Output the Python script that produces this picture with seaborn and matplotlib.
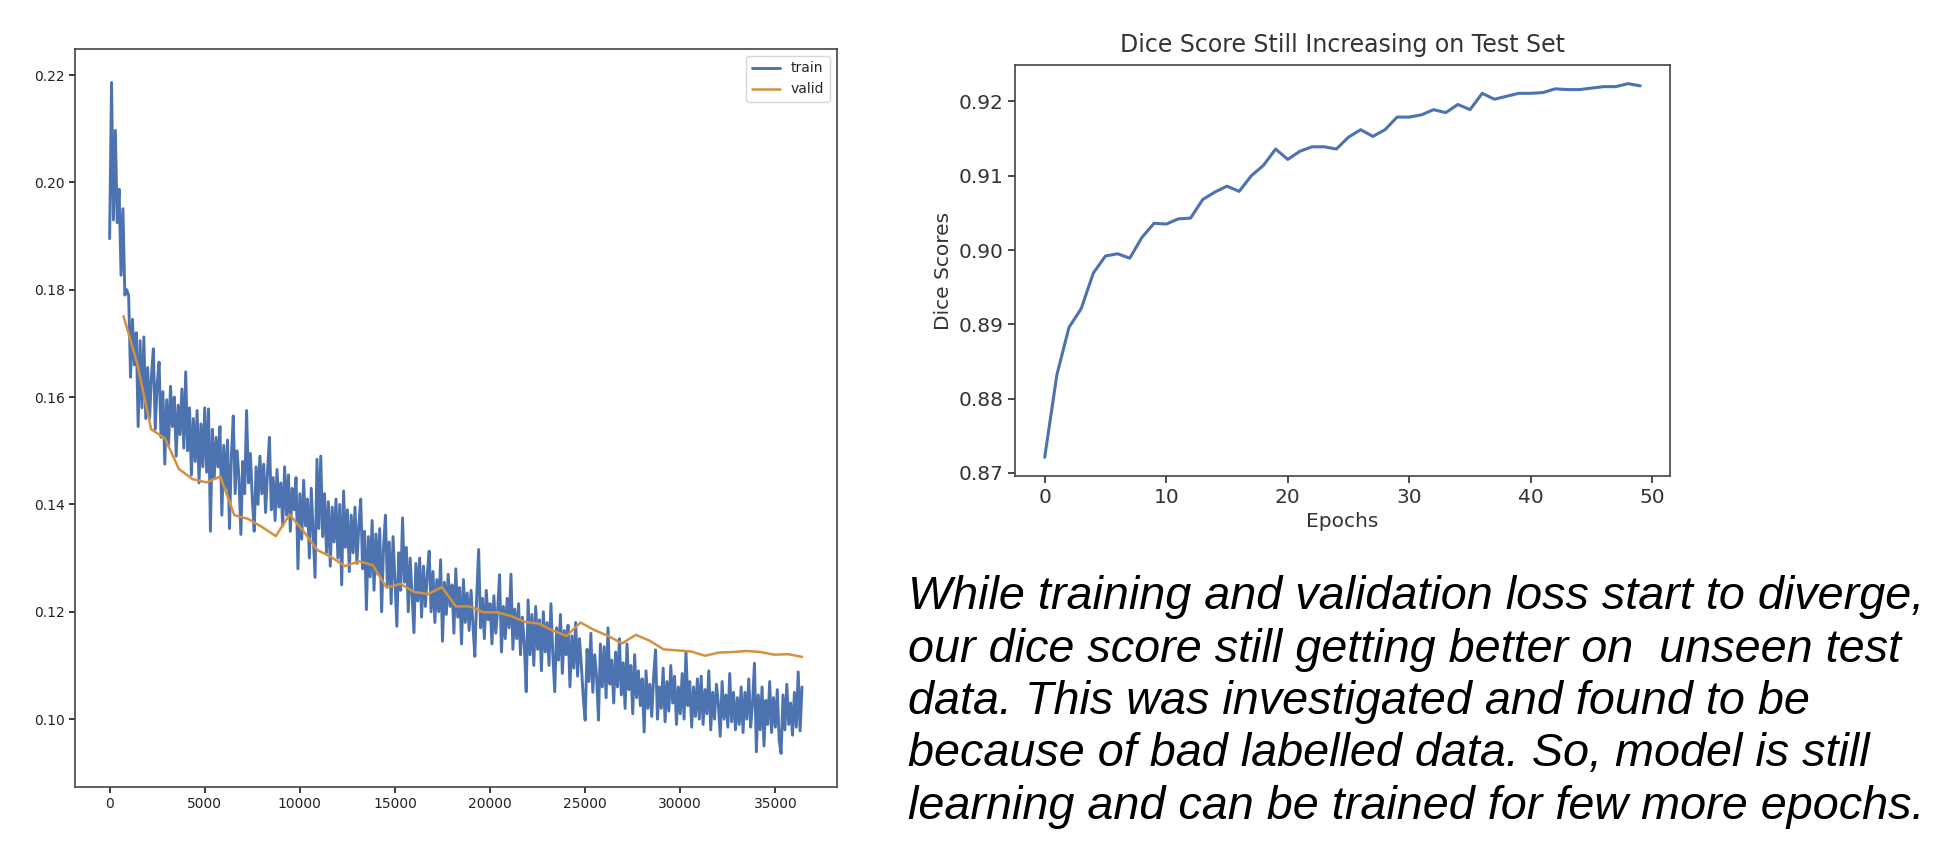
import numpy as np
import pandas as pd
import matplotlib
matplotlib.use("Agg")
import matplotlib.pyplot as plt
import seaborn as sns

# ----------------------------------------
# Data
# ----------------------------------------

# training loss, one value every 100 steps (0 .. 36400)
train_loss = [
    0.1895, 0.2186, 0.1930, 0.2097, 0.1925, 0.1987, 0.1827, 0.1951, 0.1790, 0.1800,
    0.1789, 0.1637, 0.1745, 0.1660, 0.1720, 0.1545, 0.1705, 0.1580, 0.1712, 0.1560,
    0.1655, 0.1560, 0.1640, 0.1690, 0.1540, 0.1625, 0.1665, 0.1525, 0.1610, 0.1475,
    0.1595, 0.1510, 0.1620, 0.1545, 0.1600, 0.1490, 0.1585, 0.1530, 0.1615, 0.1505,
    0.1647, 0.1500, 0.1580, 0.1455, 0.1560, 0.1480, 0.1575, 0.1440, 0.1550, 0.1470,
    0.1580, 0.1460, 0.1578, 0.1350, 0.1540, 0.1450, 0.1525, 0.1470, 0.1545, 0.1380,
    0.1510, 0.1430, 0.1520, 0.1355, 0.1490, 0.1565, 0.1420, 0.1500, 0.1450, 0.1344,
    0.1480, 0.1420, 0.1575, 0.1440, 0.1495, 0.1410, 0.1350, 0.1470, 0.1400, 0.1490,
    0.1420, 0.1475, 0.1385, 0.1460, 0.1525, 0.1390, 0.1450, 0.1370, 0.1465, 0.1395,
    0.1440, 0.1360, 0.1470, 0.1380, 0.1455, 0.1350, 0.1430, 0.1390, 0.1450, 0.1280,
    0.1420, 0.1335, 0.1445, 0.1360, 0.1410, 0.1300, 0.1430, 0.1345, 0.1264, 0.1484,
    0.1355, 0.1490, 0.1340, 0.1420, 0.1310, 0.1405, 0.1285, 0.1395, 0.1330, 0.1410,
    0.1300, 0.1400, 0.1250, 0.1425, 0.1320, 0.1390, 0.1275, 0.1380, 0.1310, 0.1395,
    0.1290, 0.1360, 0.1410, 0.1280, 0.1350, 0.1204, 0.1340, 0.1265, 0.1370, 0.1240,
    0.1345, 0.1270, 0.1355, 0.1200, 0.1320, 0.1380, 0.1250, 0.1330, 0.1215, 0.1340,
    0.1260, 0.1173, 0.1310, 0.1240, 0.1375, 0.1255, 0.1320, 0.1200, 0.1300, 0.1230,
    0.1161, 0.1290, 0.1220, 0.1300, 0.1190, 0.1285, 0.1210, 0.1270, 0.1313, 0.1200,
    0.1275, 0.1180, 0.1260, 0.1200, 0.1297, 0.1145, 0.1255, 0.1195, 0.1270, 0.1210,
    0.1250, 0.1160, 0.1280, 0.1190, 0.1245, 0.1140, 0.1260, 0.1180, 0.1235, 0.1165,
    0.1240, 0.1175, 0.1117, 0.1230, 0.1316, 0.1170, 0.1225, 0.1150, 0.1240, 0.1185,
    0.1215, 0.1140, 0.1230, 0.1160, 0.1205, 0.1269, 0.1125, 0.1210, 0.1150, 0.1225,
    0.1170, 0.1270, 0.1130, 0.1205, 0.1150, 0.1215, 0.1120, 0.1190, 0.1140, 0.1051,
    0.1222, 0.1120, 0.1195, 0.1100, 0.1210, 0.1130, 0.1185, 0.1090, 0.1200, 0.1125,
    0.1180, 0.1100, 0.1215, 0.1120, 0.1051, 0.1170, 0.1110, 0.1195, 0.1085, 0.1165,
    0.1120, 0.1175, 0.1060, 0.1155, 0.1095, 0.1180, 0.1080, 0.1150, 0.1100, 0.1040,
    0.0998, 0.1130, 0.1070, 0.1160, 0.1050, 0.1120, 0.1080, 0.0998, 0.1140, 0.1060,
    0.1135, 0.1040, 0.1170, 0.1065, 0.1110, 0.1030, 0.1125, 0.1060, 0.1150, 0.1045,
    0.1105, 0.1020, 0.1140, 0.1055, 0.1100, 0.1010, 0.1120, 0.1040, 0.1090, 0.1025,
    0.1075, 0.0976, 0.1090, 0.1020, 0.1065, 0.1005, 0.1080, 0.1129, 0.1000, 0.1060,
    0.1020, 0.1095, 0.0995, 0.1070, 0.1015, 0.1100, 0.1030, 0.1080, 0.0990, 0.1060,
    0.1010, 0.1085, 0.1000, 0.1126, 0.1025, 0.1070, 0.0985, 0.1060, 0.1005, 0.1075,
    0.1000, 0.1080, 0.0990, 0.1055, 0.1010, 0.1090, 0.0980, 0.1050, 0.1000, 0.1065,
    0.1030, 0.0968, 0.1070, 0.1000, 0.1045, 0.0985, 0.1085, 0.0995, 0.1050, 0.0980,
    0.1040, 0.0990, 0.1060, 0.0975, 0.1050, 0.1000, 0.1075, 0.0985, 0.1030, 0.1104,
    0.0939, 0.1045, 0.0980, 0.1060, 0.0950, 0.1035, 0.0990, 0.1070, 0.0975, 0.1040,
    0.0985, 0.1055, 0.0960, 0.0936, 0.1045, 0.0980, 0.1065, 0.0990, 0.1030, 0.0970,
    0.1050, 0.0985, 0.1088, 0.0978, 0.1060,
]
train_step_every = 100

# validation loss, once per epoch (728 steps per epoch)
valid_loss = [
    0.1751, 0.1662, 0.1540, 0.1523, 0.1466, 0.1447, 0.1441, 0.1452, 0.1380, 0.1373,
    0.1358, 0.1341, 0.1381, 0.1350, 0.1315, 0.1302, 0.1285, 0.1294, 0.1287, 0.1245,
    0.1252, 0.1237, 0.1233, 0.1246, 0.1210, 0.1210, 0.1199, 0.1199, 0.1192, 0.1181,
    0.1178, 0.1165, 0.1155, 0.1180, 0.1166, 0.1155, 0.1141, 0.1157, 0.1146, 0.1130,
    0.1128, 0.1126, 0.1118, 0.1124, 0.1125, 0.1127, 0.1125, 0.1120, 0.1121, 0.1116,
]
steps_per_epoch = 728

# dice score on the test set, per epoch 0..49
dice_scores = [
    0.8721, 0.8832, 0.8896, 0.8921, 0.8969, 0.8992, 0.8995, 0.8989, 0.9017, 0.9036,
    0.9035, 0.9042, 0.9043, 0.9068, 0.9078, 0.9086, 0.9079, 0.9100, 0.9114, 0.9136,
    0.9122, 0.9133, 0.9139, 0.9139, 0.9136, 0.9152, 0.9162, 0.9153, 0.9162, 0.9179,
    0.9179, 0.9182, 0.9189, 0.9185, 0.9196, 0.9189, 0.9211, 0.9203, 0.9207, 0.9211,
    0.9211, 0.9212, 0.9217, 0.9216, 0.9216, 0.9218, 0.9220, 0.9220, 0.9224, 0.9221,
]

note_lines = [
    "While training and validation loss start to diverge,",
    "our dice score still getting better on  unseen test",
    "data. This was investigated and found to be",
    "because of bad labelled data. So, model is still",
    "learning and can be trained for few more epochs.",
]

train_df = pd.DataFrame({
    'step': np.arange(len(train_loss)) * train_step_every,
    'loss': train_loss,
})
valid_df = pd.DataFrame({
    'step': np.arange(1, len(valid_loss) + 1) * steps_per_epoch,
    'loss': valid_loss,
})
dice_df = pd.DataFrame({'epoch': np.arange(len(dice_scores)), 'dice': dice_scores})

# ----------------------------------------
# Figure
# ----------------------------------------
sns.set_theme(style="ticks")
plt.rcParams['font.family'] = ['DejaVu Sans']

blue = '#4C72B0'
orange = '#D4913F'

fig = plt.figure(figsize=(19.38, 8.64), dpi=100)
fig.patch.set_facecolor('white')

# loss curves
ax1 = fig.add_axes([0.0387, 0.0891, 0.3930, 0.8542])
sns.lineplot(data=train_df, x='step', y='loss', ax=ax1, color=blue, linewidth=2.1, label='train')
sns.lineplot(data=valid_df, x='step', y='loss', ax=ax1, color=orange, linewidth=1.8, label='valid')
ax1.set_xlabel('')
ax1.set_ylabel('')
ax1.set_yticks([0.10, 0.12, 0.14, 0.16, 0.18, 0.20, 0.22])
ax1.set_xticks([0, 5000, 10000, 15000, 20000, 25000, 30000, 35000])
ax1.tick_params(labelsize=10, length=4, colors='#222222')
ax1.legend(loc='upper right', fontsize=10, frameon=True)

# dice score
ax2 = fig.add_axes([0.5237, 0.4491, 0.3380, 0.4757])
sns.lineplot(data=dice_df, x='epoch', y='dice', ax=ax2, color=blue, linewidth=2.2)
ax2.set_title('Dice Score Still Increasing on Test Set', fontsize=17, color='#333333', pad=9)
ax2.set_xlabel('Epochs', fontsize=14.5, color='#333333')
ax2.set_ylabel('Dice Scores', fontsize=14.5, color='#333333')
ax2.set_xticks([0, 10, 20, 30, 40, 50])
ax2.set_yticks([0.87, 0.88, 0.89, 0.90, 0.91, 0.92])
ax2.tick_params(labelsize=14.5, length=5, colors='#333333')

for ax in (ax1, ax2):
    for side in ax.spines.values():
        side.set_visible(True)
        side.set_color('#444444')
        side.set_linewidth(1.2)

# note text
for i, line in enumerate(note_lines):
    fig.text(908 / 1938, 1 - (609 + i * 52.5) / 864, line,
             fontsize=33.7, style='italic', family=['Liberation Sans', 'DejaVu Sans'],
             color='black', ha='left', va='baseline')

fig.savefig('out.png', dpi=100, facecolor='white')
